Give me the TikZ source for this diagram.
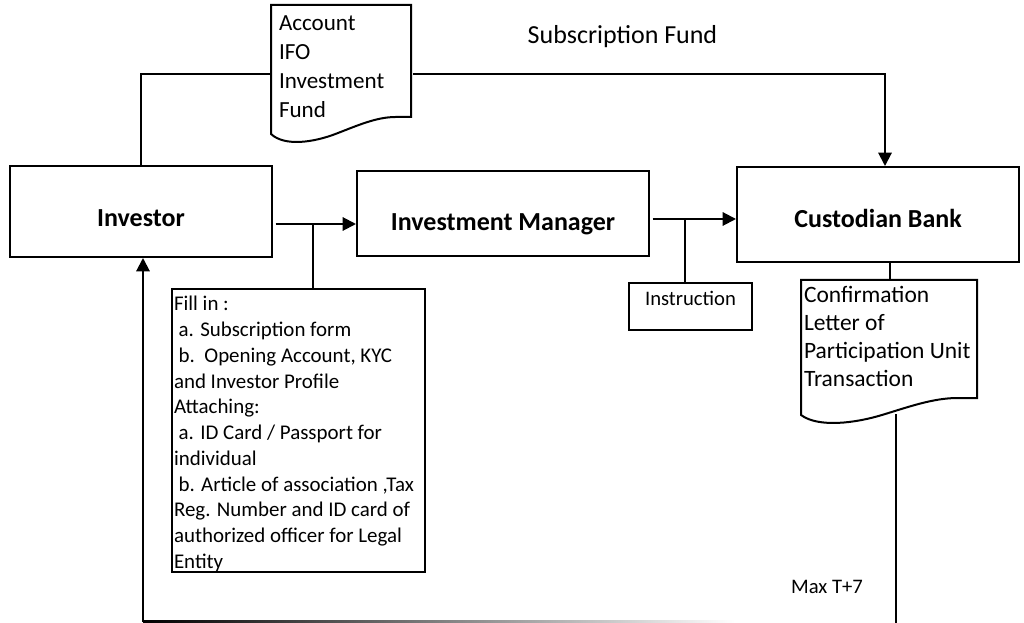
\documentclass[tikz,border=0pt]{standalone}
\usepackage{fontspec}
\setmainfont{Carlito}
\usetikzlibrary{arrows.meta,calc}

% outline of a paper sheet with a wavy lower edge, hung on a node
\newcommand{\paperedge}[3]{%
  \begin{scope}[shift={(#1.north west)}]
    \draw (0,0) -- (#2,0) -- (#2,#3) -- ({0.89*#2},#3)
      .. controls ({0.75*#2},#3) and ({0.61*#2},#3+9) .. ({0.46*#2},#3+17)
      .. controls ({0.31*#2},#3+25) and ({0.1*#2},#3+30) .. (0,#3+17) -- cycle;
  \end{scope}}

\begin{document}
\begin{tikzpicture}[x=0.75pt,y=-0.75pt,>={Triangle[length=10pt,width=10pt]},
    line width=1.5pt,
    party/.style={rectangle,draw=black,line width=1.5pt,
      font=\fontsize{19.5pt}{23pt}\selectfont\bfseries,text depth=0pt},
    paper/.style={rectangle,inner sep=0pt,align=left},
    form/.style={rectangle,draw=black,line width=1.5pt,inner sep=0pt},
    flow/.style={->,shorten <=2pt}]

  \useasboundingbox (0,0) rectangle (1024,623);

  % parties
  \node[party,minimum width=196.5pt,minimum height=68.25pt,text height=21.8pt] (inv) at (141,211.5) {Investor};
  \node[party,minimum width=219pt,minimum height=63.75pt,text height=24.8pt] (im) at (503,213.5) {Investment Manager};
  \node[party,minimum width=211.5pt,minimum height=71.25pt,text height=18.8pt] (cb) at (878,214.5) {Custodian Bank};

  % papers
  \node[paper,font=\fontsize{17.3pt}{21.75pt}\selectfont] (acc) at (342,74)
    {\parbox[c][102pt][t]{105pt}{\leftskip=5.25pt\rule{0pt}{18.75pt}Account\\IFO\\Investment\\Fund}};
  \node[paper,font=\fontsize{17.6pt}{21pt}\selectfont] (conf) at (890,340)
    {\parbox[c][88.5pt][t]{132pt}{\leftskip=1.5pt\rule{0pt}{16.5pt}Confirmation\\Letter of\\Participation Unit\\Transaction}};
  \paperedge{acc}{140}{112}
  \paperedge{conf}{176}{118}

  \node[form,font=\fontsize{15.7pt}{19.3pt}\selectfont] (fill) at (298.5,430.5)
    {\parbox[c][212.25pt][t]{189.75pt}{\leftskip=1.5pt\rule{0pt}{16.5pt}Fill in :\\
      \hspace*{3.5pt}a. Subscription form\\
      \hspace*{3.5pt}b.\ \ Opening Account, KYC\\
      and Investor Profile\\
      Attaching:\\
      \hspace*{3.5pt}a. ID Card / Passport for\\
      individual\\
      \hspace*{3.5pt}b. Article of association ,Tax\\
      Reg. Number and ID card of\\
      authorized officer for Legal\\
      Entity}};
  \node[form,minimum width=92.25pt,minimum height=35.25pt,
    font=\fontsize{15.5pt}{18pt}\selectfont,text height=10pt,text depth=12.2pt] (instr) at (690.5,306.5) {Instruction};

  % labels
  \node[anchor=base,font=\fontsize{19.5pt}{23pt}\selectfont] (subs) at (622.5,44) {Subscription Fund};
  \node[anchor=base,font=\fontsize{15.5pt}{18pt}\selectfont] (maxt) at (827,593) {Max T+7};

  % connectors
  \coordinate (j1) at (313,224);
  \coordinate (j2) at (685,219);
  \coordinate (tail) at (896,414);
  \coordinate (bl) at (143,621.5);
  \coordinate (fadeend) at (735,621.5);

  \draw (inv.north) |- (acc.west);
  \draw[->] (acc.east) -| ([xshift=5.25pt]cb.north);
  \draw[flow] (inv.east |- j1) -- (im.west |- j1);
  \draw (j1) -- (fill.north -| j1);
  \draw[flow] (im.east |- j2) -- (cb.west |- j2);
  \draw (j2) -- (instr.north -| j2);
  \draw (conf.north |- cb.south) -- (conf.north);
  \draw (tail) -- (tail |- 0,623);
  \shade[left color=black,right color=white] ($(bl)+(0,-1)$) rectangle ($(fadeend)+(0,1)$);
  \draw[->] (bl) -- (inv.south -| bl);

\end{tikzpicture}
\end{document}
